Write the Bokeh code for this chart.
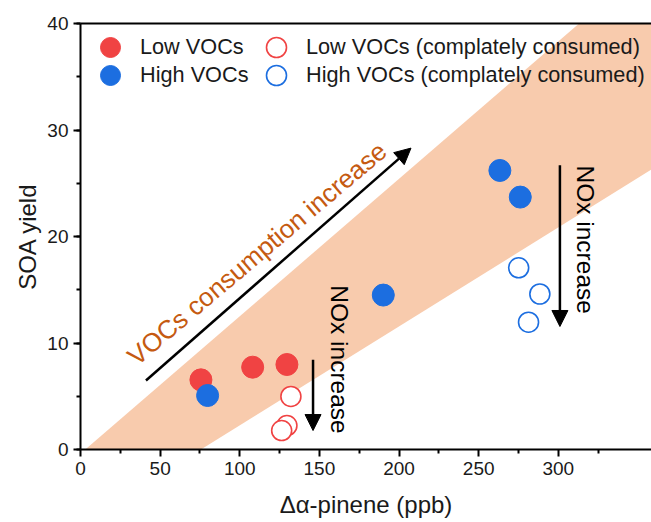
import numpy as np
from bokeh.plotting import figure
from bokeh.models import (Range1d, LinearAxis, Legend, LegendItem, Arrow, NormalHead,
                          Label, SingleIntervalTicker, FixedTicker)
from bokeh.embed import file_html
from bokeh.resources import INLINE

# ---- data ----
low_x = [75.6, 108.1, 129.6]
low_y = [6.54, 7.73, 7.98]
high_x = [79.8, 190.1, 263.3, 276.1]
high_y = [5.07, 14.5, 26.2, 23.7]
low_cons_x = [132.1, 129.6, 126.3]
low_cons_y = [4.98, 2.25, 1.78]
high_cons_x = [275.1, 288.4, 281.3]
high_cons_y = [17.06, 14.6, 11.95]

# tick values
x_ticks = [0, 50, 100, 150, 200, 250, 300]
x_minor_ticks = [25, 75, 125, 175, 225, 275, 325]

# shaded band (lower and upper edges)
band_x = [3.0, 75.6, 420.0, 420.0]
band_y = [0.0, 0.0, 32.0, 53.8]

# arrows: (x_start, y_start, x_end, y_end)
diag_arrow = (41.1, 6.48, 207.5, 28.3)
nox_arrow_left = (146.0, 8.42, 146.0, 1.78)
nox_arrow_right = (301.0, 26.7, 301.0, 11.55)

FONT = "Liberation Sans"
RED = "#F04343"
BLUE = "#1C6EE0"

p = figure(width=651, height=522, x_range=Range1d(0, 358.5), y_range=Range1d(0, 40),
           output_backend="svg", toolbar_location=None,
           min_border_left=80, min_border_right=0, min_border_top=23, min_border_bottom=73)
p.xgrid.visible = False
p.ygrid.visible = False
p.outline_line_color = None
p.background_fill_color = "white"

p.patch(band_x, band_y, fill_color="#F8CBAD", line_color=None)

r_low = p.scatter(low_x, low_y, size=22, fill_color=RED, line_color=RED, line_width=1)
r_high = p.scatter(high_x, high_y, size=22, fill_color=BLUE, line_color=BLUE, line_width=1)
r_lowc = p.scatter(low_cons_x, low_cons_y, size=20, fill_color="white", line_color=RED, line_width=1.6)
r_highc = p.scatter(high_cons_x, high_cons_y, size=20, fill_color="white", line_color=BLUE, line_width=1.6)

for (xs, ys, xe, ye) in [diag_arrow, nox_arrow_left, nox_arrow_right]:
    p.add_layout(Arrow(x_start=xs, y_start=ys, x_end=xe, y_end=ye, line_width=2.5, line_color="black",
                       end=NormalHead(size=16, fill_color="black", line_color="black")))

p.add_layout(Label(x=110.8, y=18.4, text="VOCs consumption increase", angle=np.radians(40.2),
                   text_align="center", text_baseline="middle", text_color="#C55A11",
                   text_font=FONT, text_font_size="26px"))
p.add_layout(Label(x=162.9, y=8.45, text="NOx increase", angle=-np.pi/2,
                   text_align="center", text_baseline="middle", text_color="black",
                   text_font=FONT, text_font_size="24.5px"))
p.add_layout(Label(x=317.3, y=19.7, text="NOx increase", angle=-np.pi/2,
                   text_align="center", text_baseline="middle", text_color="black",
                   text_font=FONT, text_font_size="24.5px"))

# axes
p.xaxis[0].ticker = FixedTicker(ticks=x_ticks, minor_ticks=x_minor_ticks)
p.yaxis[0].ticker = SingleIntervalTicker(interval=10, num_minor_ticks=2)
for ax in [p.xaxis[0], p.yaxis[0]]:
    ax.axis_line_width = 2
    ax.major_tick_line_width = 2
    ax.minor_tick_line_width = 2
    ax.major_tick_in = 0
    ax.major_tick_out = 7
    ax.minor_tick_in = 0
    ax.minor_tick_out = 4
    ax.major_label_text_font = FONT
    ax.major_label_text_font_size = "19px"
    ax.major_label_text_color = "#1a1a1a"
    ax.major_label_standoff = 5
    ax.axis_label_text_font = FONT
    ax.axis_label_text_font_size = "24px"
    ax.axis_label_text_font_style = "normal"
    ax.axis_label_text_color = "#1a1a1a"
p.xaxis.axis_label = "Δα-pinene (ppb)"
p.yaxis.axis_label = "SOA yield"
p.xaxis.axis_label_standoff = 13
p.yaxis.axis_label_standoff = 3

top_axis = LinearAxis(ticker=FixedTicker(ticks=[]), axis_line_width=2,
                      major_label_text_font_size="0px", major_tick_line_color=None,
                      minor_tick_line_color=None)
p.add_layout(top_axis, "above")

# legend: four single-item legends laid out in a 2x2 grid
legend_specs = [("Low VOCs", r_low, (5, 377)),
                ("High VOCs", r_high, (5, 349)),
                ("Low VOCs (complately consumed)", r_lowc, (171, 377)),
                ("High VOCs (complately consumed)", r_highc, (171, 349))]
for label, rend, loc in legend_specs:
    leg = Legend(items=[LegendItem(label=label, renderers=[rend])], location=loc,
                 glyph_width=50, glyph_height=50, padding=0, margin=0, spacing=0,
                 label_standoff=5, label_text_font=FONT, label_text_font_size="21.7px",
                 label_text_color="#1a1a1a", border_line_color=None, background_fill_alpha=0)
    p.add_layout(leg)

open("out.html", "w").write(file_html(p, INLINE))
